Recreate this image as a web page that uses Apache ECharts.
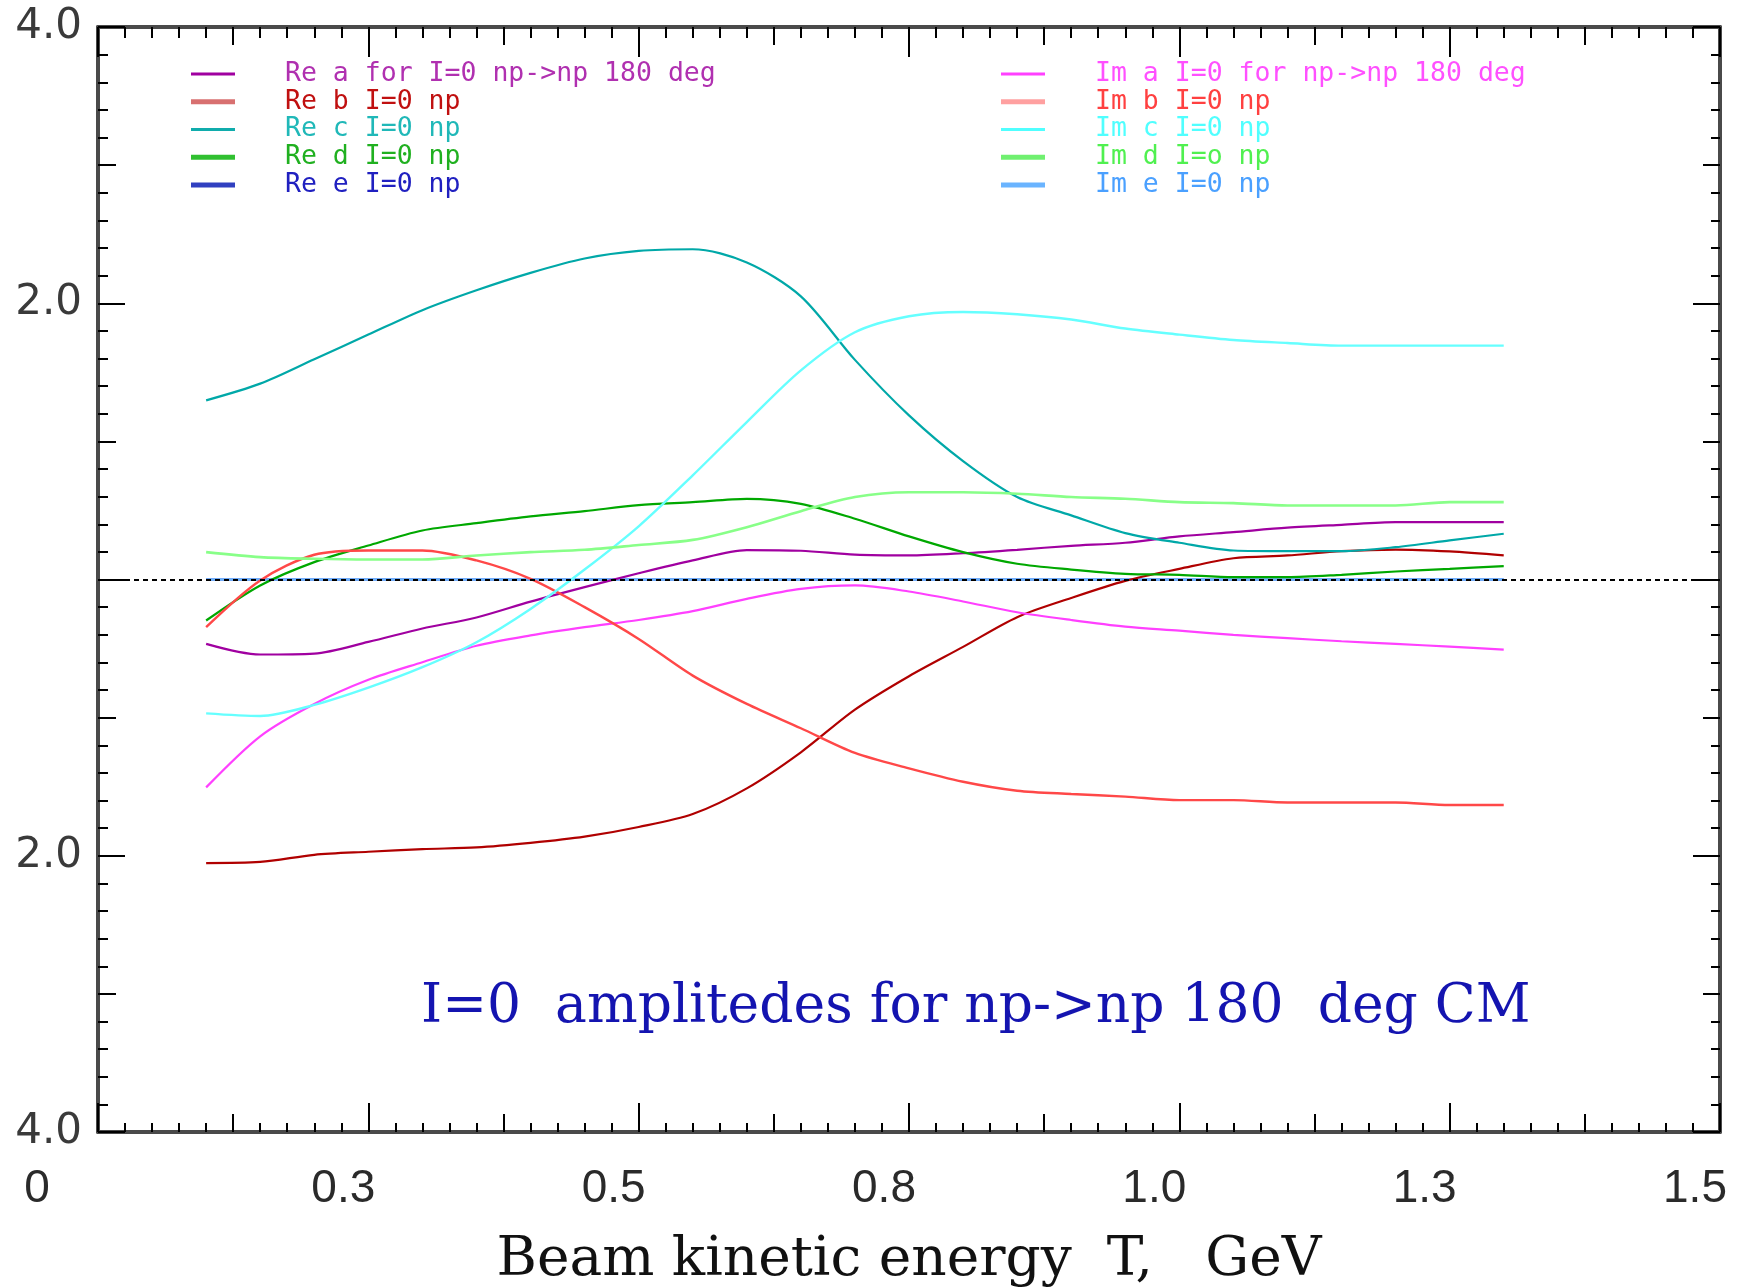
<!DOCTYPE html>
<html><head><meta charset="utf-8">
<script src="https://cdn.jsdelivr.net/npm/echarts@6/dist/echarts.min.js"></script>
<style>html,body{margin:0;padding:0;background:#fff}#c{width:1738px;height:1287px}</style>
</head><body><div id="c"></div>
<script>
// Beam kinetic energy T (GeV)
const T = [0.10,0.15,0.20,0.25,0.30,0.35,0.40,0.45,0.50,0.55,0.60,0.65,0.70,0.75,0.80,0.85,0.90,0.95,1.00,1.05,1.10,1.15,1.20,1.25,1.30];

const reA = [-0.466,-0.543,-0.536,-0.452,-0.355,-0.275,-0.160,-0.055,0.045,0.138,0.213,0.208,0.180,0.174,0.190,0.215,0.244,0.266,0.312,0.343,0.375,0.396,0.415,0.415,0.415];
const imA = [-1.505,-1.135,-0.901,-0.726,-0.599,-0.480,-0.405,-0.345,-0.293,-0.229,-0.140,-0.068,-0.043,-0.087,-0.159,-0.237,-0.293,-0.341,-0.370,-0.401,-0.425,-0.447,-0.466,-0.486,-0.507];
const reB = [-2.053,-2.045,-1.993,-1.971,-1.952,-1.940,-1.907,-1.862,-1.792,-1.698,-1.512,-1.251,-0.942,-0.700,-0.488,-0.273,-0.134,-0.010,0.077,0.154,0.174,0.205,0.217,0.203,0.174];
const imB = [-0.345,-0.007,0.179,0.210,0.210,0.138,0.005,-0.200,-0.430,-0.696,-0.901,-1.077,-1.256,-1.367,-1.464,-1.529,-1.553,-1.572,-1.597,-1.597,-1.614,-1.614,-1.614,-1.633,-1.633];
const reC = [1.297,1.418,1.595,1.773,1.950,2.094,2.220,2.324,2.379,2.391,2.295,2.050,1.590,1.188,0.857,0.597,0.464,0.336,0.266,0.210,0.205,0.205,0.234,0.283,0.331];
const imC = [-0.969,-0.988,-0.908,-0.783,-0.635,-0.454,-0.213,0.072,0.385,0.754,1.140,1.514,1.790,1.906,1.937,1.920,1.882,1.817,1.773,1.734,1.712,1.693,1.693,1.693,1.693];
const reD = [-0.297,-0.043,0.126,0.246,0.355,0.408,0.457,0.495,0.538,0.560,0.584,0.548,0.440,0.312,0.198,0.114,0.072,0.041,0.034,0.017,0.017,0.034,0.058,0.077,0.097];
const imD = [0.198,0.162,0.150,0.145,0.145,0.174,0.198,0.215,0.250,0.287,0.379,0.495,0.597,0.632,0.632,0.621,0.597,0.585,0.560,0.553,0.536,0.536,0.536,0.560,0.560];
const reE = [0,0,0,0,0,0,0,0,0,0,0,0,0,0,0,0,0,0,0,0,0,0,0,0,0];
const imE = [0,0,0,0,0,0,0,0,0,0,0,0,0,0,0,0,0,0,0,0,0,0,0,0,0];

const xTickValues = [0,0.25,0.5,0.75,1.0,1.25,1.5];
const xTickLabels = ['0','0.3','0.5','0.8','1.0','1.3','1.5'];
const yTickValues = [-4,-2,0,2,4];
const yTickLabels = ['4.0','2.0','','2.0','4.0'];

const names = {
  reA:'Re a for I=0 np->np 180 deg', reB:'Re b I=0 np', reC:'Re c I=0 np', reD:'Re d I=0 np', reE:'Re e I=0 np',
  imA:'Im a I=0 for np->np 180 deg', imB:'Im b I=0 np', imC:'Im c I=0 np', imD:'Im d I=o np', imE:'Im e I=0 np'
};

const chart = echarts.init(document.getElementById('c'), null, {renderer:'canvas'});

function mk(name, vals, color, width, extra){
  return Object.assign({
    type:'line', name:name, data:T.map((t,i)=>[t, vals[i]]),
    xAxisIndex:0, yAxisIndex:0, symbol:'none', showSymbol:false, smooth:0.3,
    lineStyle:{color:color, width:width}, itemStyle:{color:color},
    emphasis:{disabled:true}, animation:false
  }, extra||{});
}

const tickStyle = {color:'#000', width:2};
const frameLine = {show:true, onZero:false, lineStyle:{color:'#4a4a4a', width:4}};
const noLine = {show:false, onZero:false};
const noSplit = {show:false};

const thin = 'path://M0,0H44V3H0Z';
const thick = 'path://M0,0H44V5H0Z';
const legendText = {fontFamily:'DejaVu Sans Mono', fontSize:26.5, lineHeight:27.75, padding:[0,0,0,45]};

const option = {
  backgroundColor:'#fff',
  animation:false,
  grid:{left:98, top:27, width:1622, height:1105, containLabel:false, outerBoundsMode:'none'},
  title:{text:'I=0  amplitedes for np->np 180  deg CM', left:421, top:981, padding:0,
    textStyle:{fontFamily:'DejaVu Serif', fontSize:53.5, fontWeight:'normal', color:'#1414b0', lineHeight:54}},
  legend:[
    {orient:'vertical', left:191, top:60, padding:0, itemGap:0, itemWidth:44, itemHeight:14, selectedMode:false,
     textStyle:legendText,
     data:[
       {name:names.reA, icon:thin, itemStyle:{color:'#a000a0', borderWidth:0}, textStyle:{color:'#b030b0'}},
       {name:names.reB, icon:thick, itemStyle:{color:'#d87070', borderWidth:0}, textStyle:{color:'#c01010'}},
       {name:names.reC, icon:thin, itemStyle:{color:'#10acac', borderWidth:0}, textStyle:{color:'#20b8b8'}},
       {name:names.reD, icon:thick, itemStyle:{color:'#30c030', borderWidth:0}, textStyle:{color:'#20b020'}},
       {name:names.reE, icon:thick, itemStyle:{color:'#3040c0', borderWidth:0}, textStyle:{color:'#2020c0'}}
     ]},
    {orient:'vertical', left:1001, top:60, padding:0, itemGap:0, itemWidth:44, itemHeight:14, selectedMode:false,
     textStyle:legendText,
     data:[
       {name:names.imA, icon:thin, itemStyle:{color:'#ff40ff', borderWidth:0}, textStyle:{color:'#ff50ff'}},
       {name:names.imB, icon:thick, itemStyle:{color:'#ffa0a0', borderWidth:0}, textStyle:{color:'#ff4040'}},
       {name:names.imC, icon:thin, itemStyle:{color:'#50ffff', borderWidth:0}, textStyle:{color:'#50ffff'}},
       {name:names.imD, icon:thick, itemStyle:{color:'#70f070', borderWidth:0}, textStyle:{color:'#50f050'}},
       {name:names.imE, icon:thick, itemStyle:{color:'#6ab4ff', borderWidth:0}, textStyle:{color:'#4aa0ff'}}
     ]}
  ],
  xAxis:[
    {type:'value', position:'bottom', min:0, max:1.5, interval:0.25,
     axisLine:frameLine,
     axisTick:{show:true, inside:true, length:29, lineStyle:tickStyle},
     minorTick:{show:true, splitNumber:10, length:9, lineStyle:tickStyle},
     splitLine:noSplit, minorSplitLine:noSplit,
     axisLabel:{show:true, margin:34, align:'center',
       formatter:function(v){
         const i = xTickValues.findIndex(t=>Math.abs(t-v)<1e-6);
         if(i<0) return '';
         return i===0 ? '{z|'+xTickLabels[i]+'}' : '{a|'+xTickLabels[i]+'}';
       },
       rich:{
         a:{fontFamily:'Liberation Sans', fontSize:46, lineHeight:46, color:'#2a2a2a', padding:[0,50,0,0]},
         z:{fontFamily:'Liberation Sans', fontSize:46, lineHeight:46, color:'#2a2a2a', padding:[0,122,0,0]}
       }},
     name:'Beam kinetic energy  T,   GeV', nameLocation:'middle', nameGap:101,
     nameTextStyle:{fontFamily:'DejaVu Serif', fontSize:55, lineHeight:55, color:'#111'}},
    {type:'value', position:'top', min:0, max:1.5, interval:0.25,
     axisLine:frameLine,
     axisTick:{show:true, inside:true, length:30, lineStyle:tickStyle},
     minorTick:{show:true, splitNumber:10, length:11, lineStyle:tickStyle},
     splitLine:noSplit, minorSplitLine:noSplit, axisLabel:{show:false}},
    {type:'value', position:'bottom', min:0, max:1.5, interval:0.125,
     axisLine:noLine,
     axisTick:{show:true, inside:true, length:18, lineStyle:tickStyle},
     splitLine:noSplit, axisLabel:{show:false}},
    {type:'value', position:'top', min:0, max:1.5, interval:0.125,
     axisLine:noLine,
     axisTick:{show:true, inside:true, length:18, lineStyle:tickStyle},
     splitLine:noSplit, axisLabel:{show:false}}
  ],
  yAxis:[
    {type:'value', position:'left', min:-4, max:4, interval:2,
     axisLine:frameLine,
     axisTick:{show:true, inside:true, length:27, lineStyle:tickStyle},
     minorTick:{show:true, splitNumber:10, length:10, lineStyle:tickStyle},
     splitLine:noSplit, minorSplitLine:noSplit,
     axisLabel:{show:true, margin:16, fontFamily:'DejaVu Sans', fontSize:42, color:'#3a3a3a',
       formatter:function(v){
         const i = yTickValues.findIndex(t=>Math.abs(t-v)<1e-6);
         return i<0 ? '' : yTickLabels[i];
       }}},
    {type:'value', position:'right', min:-4, max:4, interval:2,
     axisLine:frameLine,
     axisTick:{show:true, inside:true, length:27, lineStyle:tickStyle},
     minorTick:{show:true, splitNumber:10, length:9, lineStyle:tickStyle},
     splitLine:noSplit, minorSplitLine:noSplit, axisLabel:{show:false}},
    {type:'value', position:'left', min:-4, max:4, interval:1,
     axisLine:noLine,
     axisTick:{show:true, inside:true, length:18, lineStyle:tickStyle},
     splitLine:noSplit, axisLabel:{show:false}},
    {type:'value', position:'right', min:-4, max:4, interval:1,
     axisLine:noLine,
     axisTick:{show:true, inside:true, length:17, lineStyle:tickStyle},
     splitLine:noSplit, axisLabel:{show:false}}
  ],
  series:[
    mk(names.reE, reE, '#2020c0', 2.2, {z:1, markLine:{silent:true, symbol:['none','none'], label:{show:false},
        lineStyle:{color:'#000', type:[5,4], width:2}, emphasis:{disabled:true}, data:[{yAxis:0}]}}),
    mk(names.imE, imE, '#6ab4ff', 2.6),
    mk(names.reA, reA, '#a000a0', 2.2),
    mk(names.reB, reB, '#b00000', 2.2),
    mk(names.reC, reC, '#00a8a8', 2.2),
    mk(names.reD, reD, '#00a800', 2.2),
    mk(names.imA, imA, '#ff40ff', 2.2),
    mk(names.imB, imB, '#ff4848', 2.4),
    mk(names.imC, imC, '#66ffff', 2.4),
    mk(names.imD, imD, '#88ff88', 2.6)
  ]
};
chart.setOption(option);
</script>
</body></html>
